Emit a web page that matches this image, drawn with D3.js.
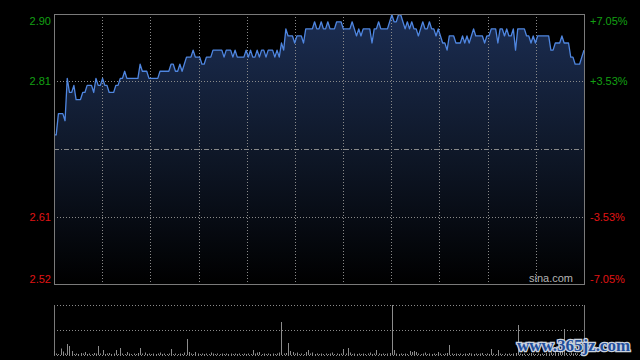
<!DOCTYPE html>
<html>
<head>
<meta charset="utf-8">
<script src="https://cdn.jsdelivr.net/npm/d3@7"></script>
<style>
  html, body { margin: 0; background: #000; }
  svg { display: block; }
</style>
</head>
<body>
<svg id="chart" width="640" height="360"></svg>
<script>
//  data
const prevClose = 2.71;
const maxPct = 7.05;
const pctLevels = [7.05, 3.53, -3.53, -7.05];
const priceLabels = ["2.90", "2.81", "2.61", "2.52"];
const pctLabels = ["+7.05%", "+3.53%", "-3.53%", "-7.05%"];

//  one value per trading minute (241 minutes)
const price = [
  2.73, 2.73, 2.76, 2.76, 2.76, 2.75, 2.81, 2.79, 2.79, 2.80,
  2.78, 2.78, 2.78, 2.79, 2.79, 2.80, 2.80, 2.80, 2.79, 2.81,
  2.80, 2.80, 2.81, 2.80, 2.80, 2.79, 2.79, 2.79, 2.80, 2.80,
  2.81, 2.81, 2.82, 2.81, 2.81, 2.81, 2.81, 2.81, 2.81, 2.83,
  2.82, 2.82, 2.82, 2.81, 2.81, 2.81, 2.81, 2.81, 2.82, 2.82,
  2.82, 2.82, 2.82, 2.83, 2.83, 2.82, 2.82, 2.83, 2.82, 2.83,
  2.84, 2.84, 2.84, 2.85, 2.84, 2.84, 2.84, 2.83, 2.83, 2.84,
  2.84, 2.84, 2.85, 2.85, 2.85, 2.85, 2.85, 2.84, 2.85, 2.85,
  2.85, 2.84, 2.85, 2.84, 2.84, 2.84, 2.84, 2.85, 2.84, 2.85,
  2.84, 2.84, 2.85, 2.84, 2.85, 2.85, 2.84, 2.85, 2.85, 2.85,
  2.84, 2.85, 2.84, 2.86, 2.85, 2.88, 2.87, 2.87, 2.87, 2.86,
  2.87, 2.87, 2.87, 2.86, 2.88, 2.88, 2.88, 2.88, 2.89, 2.88,
  2.88, 2.89, 2.88, 2.88, 2.89, 2.88, 2.88, 2.88, 2.89, 2.89,
  2.89, 2.88, 2.88, 2.88, 2.88, 2.89, 2.88, 2.87, 2.88, 2.87,
  2.88, 2.88, 2.88, 2.88, 2.86, 2.88, 2.88, 2.89, 2.88, 2.88,
  2.88, 2.88, 2.89, 2.90, 2.89, 2.89, 2.90, 2.90, 2.89, 2.88,
  2.89, 2.88, 2.89, 2.88, 2.88, 2.87, 2.88, 2.89, 2.88, 2.88,
  2.89, 2.88, 2.88, 2.87, 2.88, 2.87, 2.86, 2.86, 2.85, 2.87,
  2.87, 2.87, 2.86, 2.86, 2.86, 2.87, 2.86, 2.87, 2.86, 2.87,
  2.88, 2.87, 2.87, 2.87, 2.87, 2.86, 2.87, 2.87, 2.88, 2.88,
  2.88, 2.86, 2.88, 2.88, 2.87, 2.88, 2.87, 2.87, 2.88, 2.85,
  2.88, 2.88, 2.88, 2.88, 2.87, 2.87, 2.86, 2.87, 2.86, 2.87,
  2.87, 2.87, 2.87, 2.87, 2.87, 2.85, 2.85, 2.86, 2.86, 2.86,
  2.87, 2.86, 2.86, 2.86, 2.84, 2.84, 2.83, 2.83, 2.83, 2.84,
  2.85
];

//  volume per minute, in 10k shares (approx)
const volume = [
  8, 3, 2, 13, 7, 3, 22, 18, 8, 2,
  3, 2, 4, 3, 6, 2, 3, 2, 4, 3,
  18, 3, 10, 2, 3, 4, 2, 3, 10, 2,
  14, 3, 2, 6, 3, 2, 3, 2, 4, 14,
  3, 5, 2, 3, 2, 3, 2, 3, 5, 2,
  3, 2, 3, 12, 2, 3, 2, 3, 2, 5,
  32, 6, 3, 2, 6, 3, 2, 3, 2, 3,
  2, 5, 3, 2, 3, 2, 3, 2, 3, 2,
  3, 2, 3, 2, 3, 2, 3, 2, 3, 2,
  10, 3, 5, 6, 2, 3, 2, 3, 2, 3,
  2, 3, 5, 66, 3, 4, 24, 8, 6, 3,
  5, 2, 3, 2, 6, 10, 3, 5, 2, 3,
  2, 3, 2, 3, 2, 3, 5, 2, 3, 2,
  3, 12, 3, 14, 5, 2, 3, 2, 3, 2,
  3, 2, 3, 5, 2, 3, 10, 3, 2, 3,
  2, 3, 4, 100, 10, 3, 2, 3, 2, 3,
  2, 8, 6, 8, 6, 3, 2, 3, 5, 2,
  3, 2, 3, 2, 6, 3, 2, 3, 4, 20,
  3, 2, 3, 2, 3, 2, 3, 2, 4, 3,
  2, 3, 2, 3, 4, 2, 3, 2, 12, 3,
  2, 10, 3, 2, 3, 2, 3, 2, 3, 4,
  60, 3, 2, 3, 2, 3, 4, 3, 2, 3,
  2, 3, 2, 4, 3, 5, 3, 6, 4, 8,
  6, 52, 4, 3, 5, 3, 4, 3, 2, 3,
  4
];

//  draw
function draw_chart() {
  const main = {left: 54, right: 584, top: 14, bottom: 284};
  const vol = {top: 305, bottom: 355};
  const gridColor = "#8a8a8a";
  const frameColor = "#7a7a7a";
  const font = "'Liberation Sans', Arial, sans-serif";

  const svg = d3.select("#chart");
  svg.selectAll("*").remove();

  const x = d3.scaleLinear().domain([0, price.length - 1]).range([main.left, main.right]);
  const gx = d3.scaleLinear().domain([0, 11]).range([main.left, main.right]);
  const y = d3.scaleLinear()
    .domain([prevClose * (1 - maxPct / 100), prevClose * (1 + maxPct / 100)])
    .range([main.bottom, main.top]);
  const yv = d3.scaleLinear().domain([0, d3.max(volume)]).range([vol.bottom, vol.top]);

  svg.append("rect").attr("width", 640).attr("height", 360).attr("fill", "#000");

  const defs = svg.append("defs");
  const grad = defs.append("linearGradient")
    .attr("id", "areaFill")
    .attr("gradientUnits", "userSpaceOnUse")
    .attr("x1", 0).attr("x2", 0)
    .attr("y1", main.top).attr("y2", main.bottom);
  grad.append("stop").attr("offset", "0").attr("stop-color", "#1b2d52");
  grad.append("stop").attr("offset", "0.5").attr("stop-color", "#0f1829");
  grad.append("stop").attr("offset", "1").attr("stop-color", "#000000");

  //  area under price
  svg.append("path")
    .datum(price)
    .attr("fill", "url(#areaFill)")
    .attr("d", d3.area()
      .x((d, i) => x(i))
      .y0(main.bottom)
      .y1(d => y(d)));

  //  vertical grid
  svg.append("g")
    .selectAll("line")
    .data(d3.range(1, 11))
    .join("line")
    .attr("x1", d => Math.round(gx(d)) + 0.5)
    .attr("x2", d => Math.round(gx(d)) + 0.5)
    .attr("y1", main.top)
    .attr("y2", main.bottom)
    .attr("stroke", gridColor)
    .attr("stroke-dasharray", "1,2");

  //  horizontal grid (+-3.53%)
  svg.append("g")
    .selectAll("line")
    .data(pctLevels.filter(p => Math.abs(p) < maxPct))
    .join("line")
    .attr("x1", main.left)
    .attr("x2", main.right)
    .attr("y1", d => Math.round(y(prevClose * (1 + d / 100))) + 0.5)
    .attr("y2", d => Math.round(y(prevClose * (1 + d / 100))) + 0.5)
    .attr("stroke", gridColor)
    .attr("stroke-dasharray", "1,2");

  //  previous close line
  svg.append("line")
    .attr("x1", main.left)
    .attr("x2", main.right)
    .attr("y1", Math.round(y(prevClose)) + 0.5)
    .attr("y2", Math.round(y(prevClose)) + 0.5)
    .attr("stroke", gridColor)
    .attr("stroke-dasharray", "5,2,1,2");

  //  price line
  svg.append("path")
    .datum(price)
    .attr("fill", "none")
    .attr("stroke", "#4f86e0")
    .attr("stroke-width", 1.3)
    .attr("stroke-linejoin", "round")
    .attr("d", d3.line()
      .x((d, i) => x(i))
      .y(d => y(d)));

  //  frame
  svg.append("rect")
    .attr("x", main.left + 0.5)
    .attr("y", main.top + 0.5)
    .attr("width", main.right - main.left)
    .attr("height", main.bottom - main.top)
    .attr("fill", "none")
    .attr("stroke", frameColor);

  //  price labels
  const labelY = (p, i) => {
    const yy = y(prevClose * (1 + p / 100));
    if (i === 0) return yy + 11;
    if (i === pctLevels.length - 1) return yy - 1;
    return yy + 4;
  };
  const labelColor = p => p > 0 ? "#13a013" : "#e01414";

  svg.append("g")
    .selectAll("text")
    .data(pctLevels)
    .join("text")
    .attr("x", main.left - 3)
    .attr("y", (d, i) => labelY(d, i))
    .attr("text-anchor", "end")
    .attr("font-family", font)
    .attr("font-size", 11)
    .attr("fill", d => labelColor(d))
    .text((d, i) => priceLabels[i]);

  svg.append("g")
    .selectAll("text")
    .data(pctLevels)
    .join("text")
    .attr("x", main.right + 6)
    .attr("y", (d, i) => labelY(d, i))
    .attr("text-anchor", "start")
    .attr("font-family", font)
    .attr("font-size", 11)
    .attr("fill", d => labelColor(d))
    .text((d, i) => pctLabels[i]);

  svg.append("text")
    .attr("x", main.right - 11)
    .attr("y", main.bottom - 2)
    .attr("text-anchor", "end")
    .attr("font-family", font)
    .attr("font-size", 11)
    .attr("fill", "#b4b4b4")
    .text("sina.com");

  //  volume panel
  svg.append("g")
    .selectAll("line")
    .data([vol.top, (vol.top + vol.bottom) / 2, vol.bottom])
    .join("line")
    .attr("x1", main.left)
    .attr("x2", main.right)
    .attr("y1", d => Math.round(d) + 0.5)
    .attr("y2", d => Math.round(d) + 0.5)
    .attr("stroke", gridColor)
    .attr("stroke-dasharray", "1,2");

  svg.append("g")
    .selectAll("line")
    .data([main.left, main.right])
    .join("line")
    .attr("x1", d => d + 0.5)
    .attr("x2", d => d + 0.5)
    .attr("y1", vol.top)
    .attr("y2", vol.bottom + 1)
    .attr("stroke", frameColor);

  svg.append("g")
    .selectAll("line")
    .data(volume)
    .join("line")
    .attr("x1", (d, i) => Math.round(x(i)) + 0.5)
    .attr("x2", (d, i) => Math.round(x(i)) + 0.5)
    .attr("y1", vol.bottom)
    .attr("y2", d => yv(d))
    .attr("stroke", "#8c8c8c");

  //  watermark
  svg.append("text")
    .attr("x", 517)
    .attr("y", 351)
    .attr("font-family", "'Liberation Serif', serif")
    .attr("font-weight", "bold")
    .attr("font-size", 16)
    .attr("textLength", 113)
    .attr("lengthAdjust", "spacingAndGlyphs")
    .attr("fill", "#1f4e9c")
    .attr("stroke", "#c9d2df")
    .attr("stroke-width", 2.5)
    .attr("paint-order", "stroke")
    .text("www.365jz.com");
}

draw_chart();
</script>
</body>
</html>
